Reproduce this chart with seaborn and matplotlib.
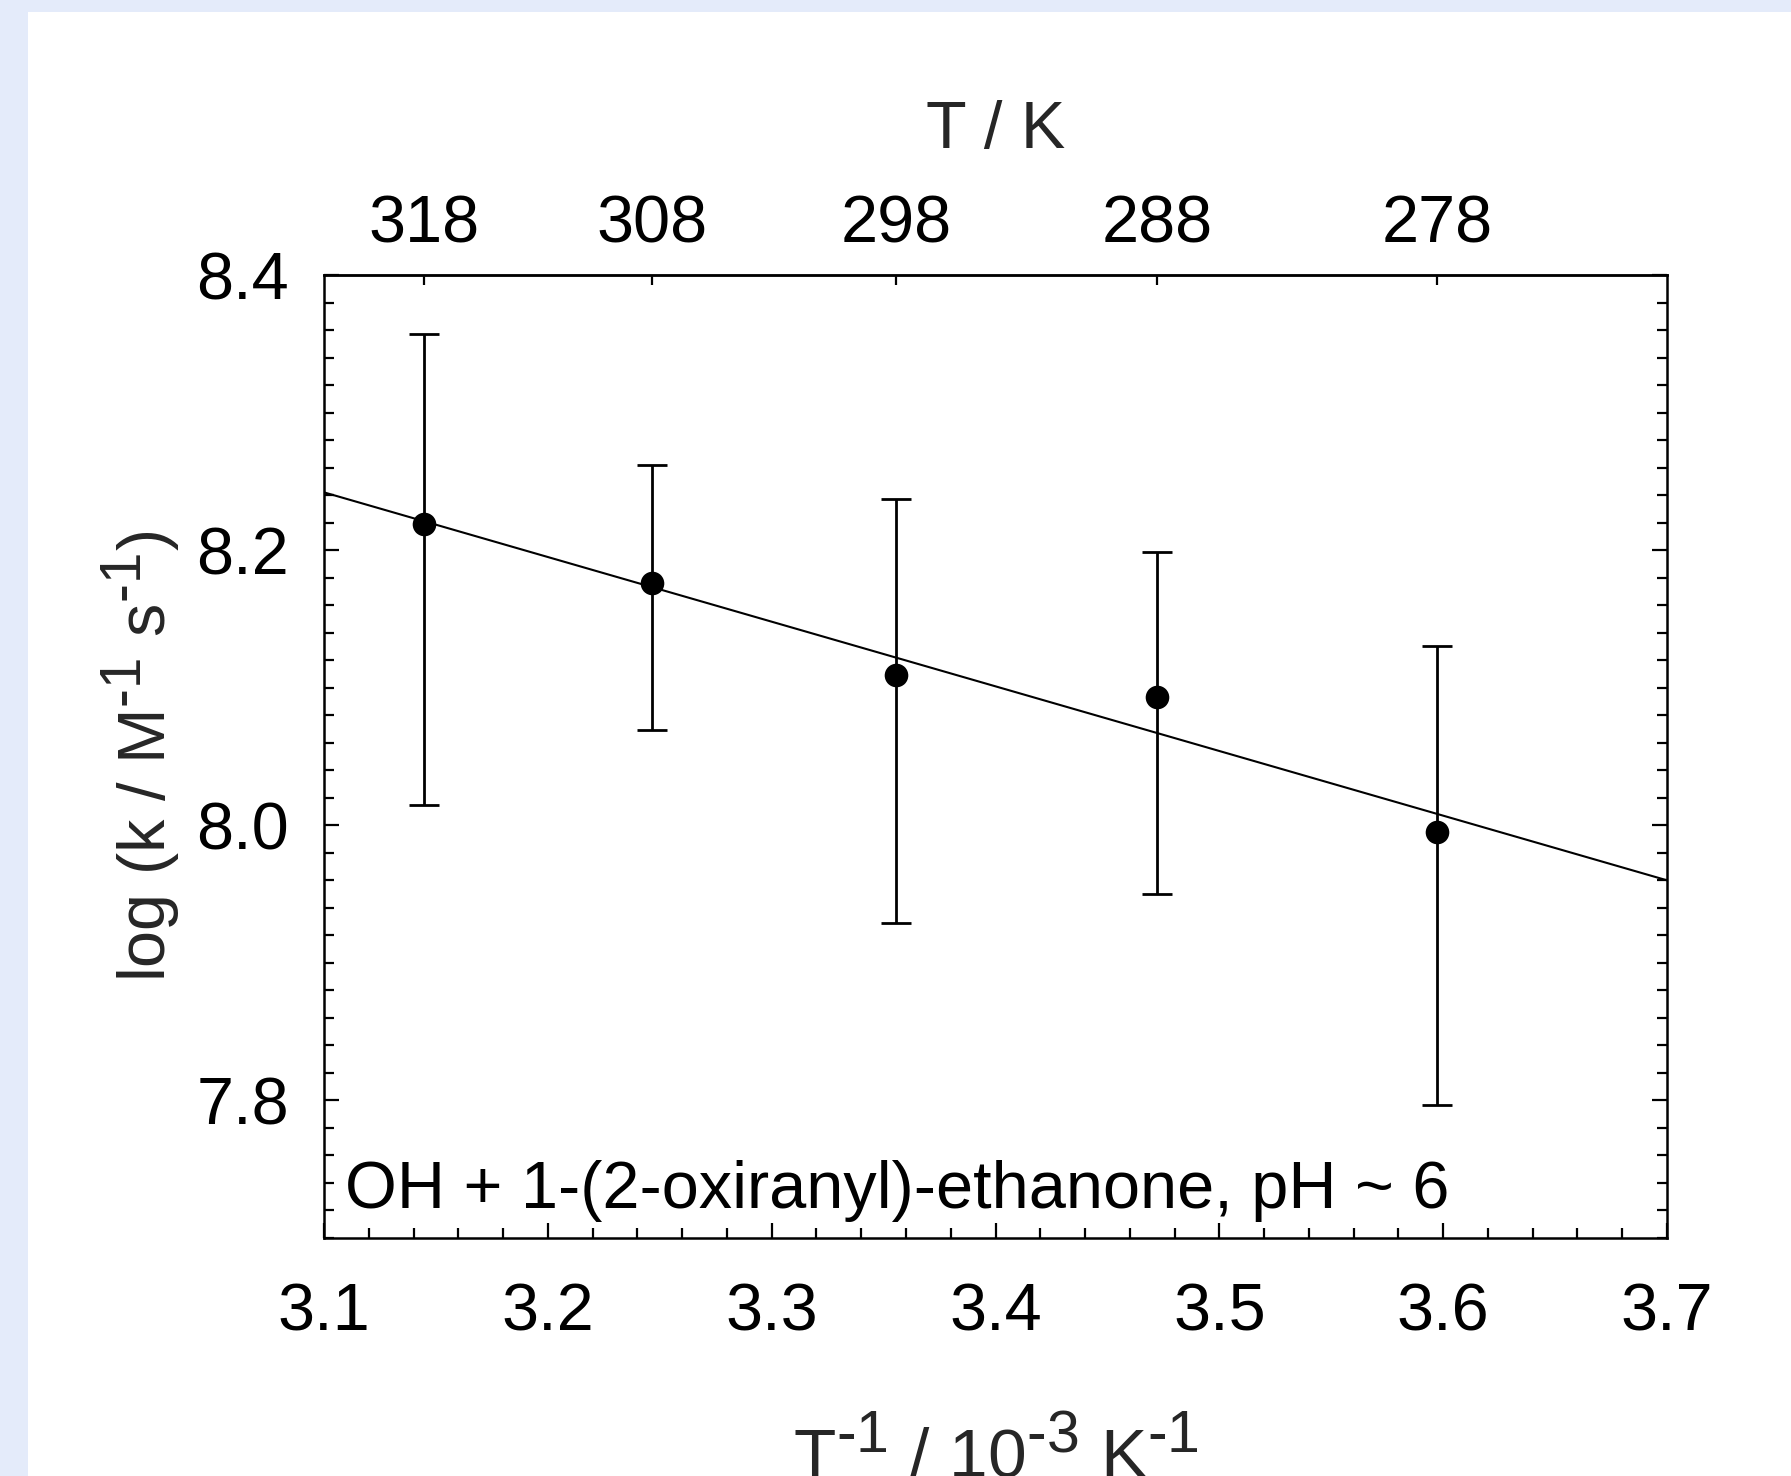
import matplotlib
matplotlib.use("Agg")
import matplotlib.pyplot as plt
import matplotlib.patches as mpatches
import matplotlib._mathtext as _mt
from matplotlib.ticker import MultipleLocator, FixedLocator, NullLocator
import numpy as np
import pandas as pd
import seaborn as sns

# larger superscripts, like the reference
_mt.SHRINK_FACTOR = 0.85

# ---- data ----
temps_K = [318, 308, 298, 288, 278]
inv_T = [1000.0 / t for t in temps_K]          # 10^-3 K^-1
log_k = [8.219, 8.176, 8.109, 8.093, 7.995]
err_upper = [8.357, 8.262, 8.237, 8.199, 8.130]
err_lower = [8.015, 8.069, 7.929, 7.950, 7.797]
fit_x = [3.1, 3.7]
fit_y = [8.242, 7.960]
top_ticks = [318, 308, 298, 288, 278]
annotation = "OH + 1-(2-oxiranyl)-ethanone, pH ~ 6"

df = pd.DataFrame({"x": inv_T, "y": log_k})
fit_df = pd.DataFrame({"x": fit_x, "y": fit_y})

sns.set_theme(style="ticks")
plt.rcParams["font.family"] = ["Liberation Sans", "DejaVu Sans"]
plt.rcParams["mathtext.fontset"] = "custom"
plt.rcParams["mathtext.rm"] = "Liberation Sans"
plt.rcParams["mathtext.it"] = "Liberation Sans"

FS = 48
fig = plt.figure(figsize=(17.91, 14.76), dpi=100, facecolor="#E4EBFA")
fig.patches.append(mpatches.Rectangle((28 / 1791, 0), 1, 1 - 12 / 1476,
                                      transform=fig.transFigure, facecolor="white",
                                      edgecolor="none", zorder=-10))
ax = fig.add_axes([324 / 1791, 1 - 1238 / 1476, (1667 - 324) / 1791, (1238 - 275) / 1476])
ax.set_facecolor("white")

# error bars
yerr = np.array([[v - l for v, l in zip(log_k, err_lower)],
                 [u - v for v, u in zip(log_k, err_upper)]])
ax.errorbar(inv_T, log_k, yerr=yerr, fmt="none", ecolor="black",
            elinewidth=2.0, capsize=10.5, capthick=2.0, zorder=2)
sns.lineplot(data=fit_df, x="x", y="y", ax=ax, color="black", linewidth=1.5, zorder=3)
sns.scatterplot(data=df, x="x", y="y", ax=ax, color="black", s=17 ** 2,
                edgecolor="black", linewidth=0, zorder=4)

ax.set_xlim(3.1, 3.7)
ax.set_ylim(7.7, 8.4)
ax.xaxis.set_major_locator(MultipleLocator(0.1))
ax.xaxis.set_minor_locator(MultipleLocator(0.02))
ax.yaxis.set_major_locator(FixedLocator([7.8, 8.0, 8.2, 8.4]))
ax.yaxis.set_minor_locator(MultipleLocator(0.02))
ax.xaxis.set_major_formatter(matplotlib.ticker.FormatStrFormatter("%.1f"))
ax.yaxis.set_major_formatter(matplotlib.ticker.FormatStrFormatter("%.1f"))

ax.tick_params(axis="both", which="both", direction="in", colors="black",
               labelsize=FS, width=1.6)
ax.tick_params(axis="x", which="both", top=False, bottom=True, pad=32)
ax.tick_params(axis="y", which="both", left=True, right=True, pad=25)
ax.tick_params(which="major", length=11)
ax.tick_params(which="minor", length=7)
for s in ax.spines.values():
    s.set_linewidth(1.8)
    s.set_color("black")

sec = ax.secondary_xaxis("top", functions=(lambda x: 1000.0 / np.asarray(x, dtype=float),
                                           lambda t: 1000.0 / np.asarray(t, dtype=float)))
sec.xaxis.set_major_locator(FixedLocator(top_ticks))
sec.xaxis.set_minor_locator(NullLocator())
sec.xaxis.set_major_formatter(matplotlib.ticker.FormatStrFormatter("%d"))
sec.tick_params(direction="in", length=7, width=1.6, labelsize=FS, pad=13, colors="black")
sec.spines["top"].set_linewidth(1.8)
sec.set_xlabel("T / K", fontsize=FS, labelpad=34)

ax.set_xlabel(r"$\mathregular{T^{\text{-}1}\ /\ 10^{\text{-}3}\ K^{\text{-}1}}$",
              fontsize=FS + 2, labelpad=55)
ax.set_ylabel(r"$\mathregular{log\ (k\ /\ M^{\text{-}1}\ s^{\text{-}1})}$",
              fontsize=FS, labelpad=10)

ax.text(3.1094, 7.722, annotation, fontsize=FS, ha="left", va="baseline", color="black")

fig.savefig("out.png", dpi=100, facecolor=fig.get_facecolor())
